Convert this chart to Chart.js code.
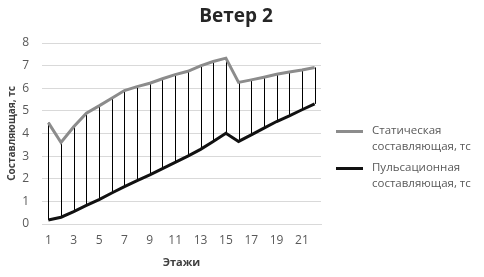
<!DOCTYPE html>
<html>
<head>
<meta charset="utf-8">
<script src="https://cdn.jsdelivr.net/npm/chart.js@4"></script>
<style>
    html, body { margin: 0; padding: 0; background: #fff; }
    #wrap { position: relative; width: 484px; height: 277px; }
    #title { position: absolute; left: 0; top: 2px; width: 472px; text-align: center; font-family: "Open Sans", sans-serif; font-size: 19px; font-weight: bold; color: #262626; line-height: 26px; }
    #legend { position: absolute; left: 336px; top: 122px; font-family: "Open Sans", sans-serif; font-size: 11.5px; color: #595959; line-height: 16px; }
    .item { display: flex; align-items: flex-start; margin-bottom: 5px; }
    .swatch { width: 27px; height: 3px; margin-top: 8px; margin-right: 9px; }
</style>
</head>
<body>
<div id="wrap">
    <canvas id="chart" width="484" height="277"></canvas>
    <div id="title">Ветер 2</div>
    <div id="legend"></div>
</div>
<script>
// floors 1..22
const floors = ['1','2','3','4','5','6','7','8','9','10','11','12','13','14','15','16','17','18','19','20','21','22'];
const staticValues = [4.48, 3.6, 4.3, 4.9, 5.22, 5.56, 5.9, 6.07, 6.22, 6.42, 6.6, 6.75, 6.99, 7.18, 7.33, 6.26, 6.37, 6.49, 6.62, 6.72, 6.81, 6.92];
const pulseValues = [0.18, 0.3, 0.55, 0.82, 1.08, 1.37, 1.65, 1.92, 2.17, 2.45, 2.72, 3.0, 3.3, 3.65, 4.01, 3.65, 3.94, 4.24, 4.53, 4.78, 5.05, 5.31];
const yTicks = [0, 1, 2, 3, 4, 5, 6, 7, 8];
const seriesNames = [['Статическая', 'составляющая, тс'], ['Пульсационная', 'составляющая, тс']];
const seriesColors = ['#8c8c8c', '#111111'];

// vertical high-low lines between the two series
const highLowLines = {
    id: 'highLowLines',
    beforeDatasetsDraw(chart) {
        const ctx = chart.ctx;
        const x = chart.scales.x;
        const y = chart.scales.y;
        ctx.save();
        ctx.strokeStyle = '#000';
        ctx.lineWidth = 1;
        floors.forEach((f, i) => {
            const px = Math.round(x.getPixelForValue(i)) + 0.5;
            ctx.beginPath();
            ctx.moveTo(px, y.getPixelForValue(staticValues[i]));
            ctx.lineTo(px, y.getPixelForValue(pulseValues[i]));
            ctx.stroke();
        });
        ctx.restore();
    }
};

const font = "'Open Sans', sans-serif";

new Chart(document.getElementById('chart').getContext('2d'), {
    type: 'line',
    data: {
        labels: floors,
        datasets: [
            {
                label: seriesNames[0].join(' '),
                data: staticValues,
                borderColor: seriesColors[0],
                borderWidth: 3,
                pointRadius: 0,
                tension: 0
            },
            {
                label: seriesNames[1].join(' '),
                data: pulseValues,
                borderColor: seriesColors[1],
                borderWidth: 3,
                pointRadius: 0,
                tension: 0
            }
        ]
    },
    options: {
        responsive: false,
        animation: false,
        layout: { padding: { left: 5, right: 163, top: 43, bottom: 8 } },
        plugins: {
            legend: { display: false },
            tooltip: { enabled: false },
            title: { display: false }
        },
        scales: {
            x: {
                offset: true,
                afterFit: s => { s.height = 45; },
                grid: { display: false, drawTicks: false },
                border: { color: '#d9d9d9' },
                ticks: {
                    autoSkip: false,
                    maxRotation: 0,
                    color: '#595959',
                    font: { family: font, size: 12 },
                    padding: 9,
                    callback: (v, i) => (i % 2 === 0 ? floors[i] : '')
                },
                title: {
                    display: true,
                    text: 'Этажи',
                    color: '#404040',
                    font: { family: font, size: 11, weight: 'bold' },
                    padding: { top: 0, bottom: 0 }
                }
            },
            y: {
                min: 0,
                max: 8,
                afterFit: s => { s.width = 37; },
                afterBuildTicks: axis => { axis.ticks = yTicks.map(v => ({ value: v })); },
                grid: { color: '#d9d9d9', drawTicks: false },
                border: { display: false },
                ticks: {
                    color: '#595959',
                    font: { family: font, size: 12 },
                    padding: 13
                },
                title: {
                    display: true,
                    text: 'Составляющая, тс',
                    color: '#404040',
                    font: { family: font, size: 10, weight: 'bold' },
                    padding: { top: 1, bottom: 0 }
                }
            }
        }
    },
    plugins: [highLowLines]
});

// legend with wrapped text
const legend = document.getElementById('legend');
seriesNames.forEach((lines, i) => {
    const item = document.createElement('div');
    item.className = 'item';
    item.innerHTML = '<div class="swatch" style="background:' + seriesColors[i] + '"></div><div>' + lines.join('<br>') + '</div>';
    legend.appendChild(item);
});
</script>
</body>
</html>
